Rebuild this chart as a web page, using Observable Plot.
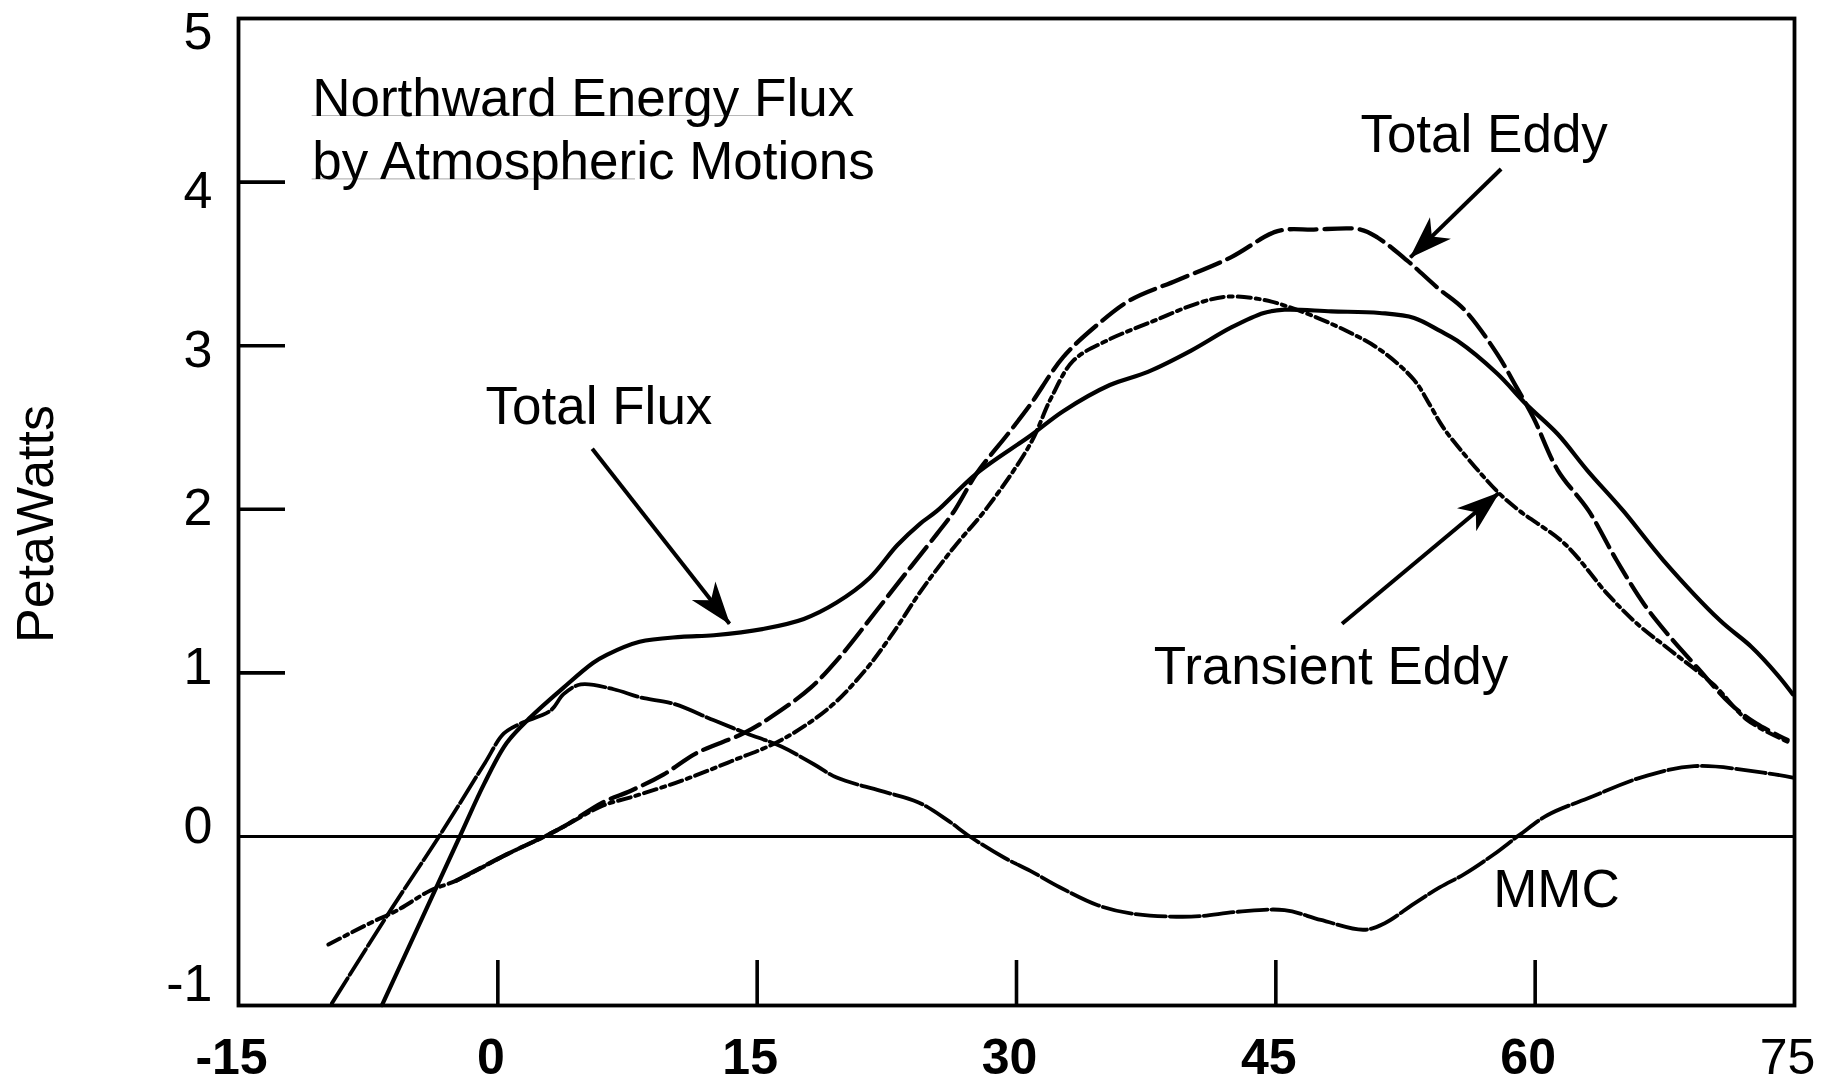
<!DOCTYPE html>
<html>
<head>
<meta charset="utf-8">
<script src="https://cdn.jsdelivr.net/npm/d3@7"></script>
<script src="https://cdn.jsdelivr.net/npm/@observablehq/plot@0.6"></script>
<style>
  html, body { margin: 0; padding: 0; background: #fff; }
  #chart svg { display: block; }
</style>
</head>
<body>
<div id="chart"></div>
<script>
// ---- Data: [latitude (deg), northward energy flux (PW)] ----
const totalFlux = [
  [-6.7,-1.03],[-2.2,0],[-0.8,0.32],[0.5,0.57],[1.9,0.73],[3.8,0.91],[5.5,1.06],[6.3,1.11],
  [8.2,1.19],[10.6,1.22],[12.5,1.23],[15.4,1.27],[17.7,1.33],[19.6,1.43],[21.5,1.58],[23.1,1.78],
  [24.4,1.91],[25.4,1.99],[27.7,2.22],[30.8,2.45],[32.7,2.60],[35.4,2.76],[37.6,2.84],[40.1,2.97],
  [42.4,3.11],[44.3,3.20],[45.5,3.22],[48.2,3.21],[51.0,3.20],[53.0,3.17],[54.5,3.09],[55.5,3.03],
  [57.8,2.83],[59.5,2.64],[61.3,2.46],[63.0,2.24],[65.1,1.99],[67.4,1.69],[70.7,1.32],[72.5,1.16],
  [74.0,0.99],[74.9,0.87]
];
const totalEddy = [
  [-2.4,-0.27],[0.5,-0.11],[2.7,0],[3.8,0.06],[6.1,0.21],[7.7,0.28],[9.6,0.38],[11.5,0.51],
  [14.2,0.63],[15.8,0.73],[18.1,0.91],[19.8,1.10],[21.9,1.38],[23.9,1.65],[25.4,1.85],[26.4,1.99],
  [27.7,2.22],[29.5,2.46],[30.8,2.64],[32.7,2.93],[34.7,3.13],[36.6,3.28],[39.3,3.40],[42.4,3.54],
  [45.1,3.70],[47.2,3.71],[49.9,3.71],[50.9,3.66],[52.6,3.52],[54.4,3.35],[55.9,3.22],[57.8,2.95],
  [58.9,2.75],[59.9,2.56],[61.3,2.24],[63.1,1.99],[64.7,1.69],[66.3,1.42],[67.8,1.22],[69.4,1.03],
  [71.3,0.81],[72.8,0.69],[74.6,0.59]
];
const transientEddy = [
  [-9.8,-0.66],[-7.4,-0.53],[-5.8,-0.45],[-3.9,-0.33],[-2.4,-0.27],[0.5,-0.11],[2.7,0],[3.8,0.06],
  [6.1,0.19],[7.7,0.24],[10.6,0.34],[13.5,0.46],[16.4,0.59],[19.2,0.79],[21.2,1.01],[22.7,1.22],
  [24.6,1.52],[26.4,1.77],[28.3,2.01],[30.8,2.40],[32.0,2.68],[33.3,2.91],[35.2,3.03],[37.9,3.15],
  [40.5,3.26],[42.2,3.30],[44.3,3.28],[46.2,3.22],[49.1,3.09],[51.1,2.97],[53.0,2.79],[53.9,2.64],
  [54.5,2.53],[55.1,2.44],[57.8,2.11],[59.1,1.99],[61.7,1.79],[64.2,1.48],[65.9,1.30],[67.8,1.14],
  [70.3,0.93],[72.3,0.71],[74.6,0.58]
];
const meanMeridional = [
  [-9.6,-1.02],[-6.2,-0.45],[-3.4,0],[-0.8,0.44],[0.35,0.63],[1.3,0.69],[3.05,0.77],[3.8,0.87],
  [4.8,0.93],[6.7,0.90],[8.25,0.85],[10.2,0.81],[12.5,0.71],[14.4,0.63],[16.4,0.55],[18.3,0.44],
  [19.6,0.36],[22.1,0.28],[24.3,0.21],[26.0,0.10],[27.3,0],[29.3,-0.13],[30.8,-0.21],[32.5,-0.31],
  [34.7,-0.42],[36.6,-0.47],[40.1,-0.49],[42.8,-0.46],[45.5,-0.45],[47.6,-0.51],[50.1,-0.57],
  [51.3,-0.53],[53.0,-0.41],[54.5,-0.31],[55.9,-0.23],[57.6,-0.11],[59.1,0.01],[60.7,0.13],
  [63.2,0.24],[66.1,0.36],[69.2,0.43],[73.2,0.39],[74.9,0.36]
];

// ---- Axes / tick labels ----
const xDomain = [-15, 75];
const yDomain = [-1.033, 5];
const xTickMarks = [0, 15, 30, 45, 60];
const xTickLabels = [-15, 0, 15, 30, 45, 60, 75];
const yTickMarks = [1, 2, 3, 4];
const yTickLabels = [5, 4, 3, 2, 1, 0, -1];
const yAxisTitle = "PetaWatts";

// ---- Annotations (text anchored at left baseline, in data units) ----
const labels = [
  {text: "Northward Energy Flux", lat: -10.74, pw: 4.407},
  {text: "by Atmospheric Motions", lat: -10.74, pw: 4.02},
  {text: "Total Flux", lat: -0.71, pw: 2.52},
  {text: "Total Eddy", lat: 49.89, pw: 4.183},
  {text: "Transient Eddy", lat: 37.94, pw: 0.933},
  {text: "MMC", lat: 57.57, pw: -0.432}
];
const titleUnderlines = [
  {pw: 4.407, lat1: -10.74, lat2: 15.07},
  {pw: 4.02, lat1: -10.74, lat2: 7.96}
];
const arrows = [
  {lat1: 5.46, pw1: 2.37, lat2: 13.4, pw2: 1.30},
  {lat1: 58.03, pw1: 4.08, lat2: 52.78, pw2: 3.54},
  {lat1: 48.83, pw1: 1.30, lat2: 57.9, pw2: 2.10}
];

const FONT = "'Liberation Sans', Arial, Helvetica, sans-serif";
const xTickLen = 45 / 163.6;   // tick length expressed in data units
const yTickLen = 47 / 17.29;

const X = d => d[0], Y = d => d[1];

const chart = Plot.plot({
  width: 1839,
  height: 1085,
  marginLeft: 238,
  marginRight: 45,
  marginTop: 18,
  marginBottom: 80,
  style: {fontFamily: FONT, fontSize: "52px", background: "#fff", color: "#000"},
  x: {domain: xDomain, axis: null},
  y: {domain: yDomain, axis: null},
  marks: [
    Plot.ruleY([0], {stroke: "#000", strokeWidth: 3}),
    Plot.ruleX(xTickMarks, {x: d => d, y1: yDomain[0], y2: yDomain[0] + xTickLen, stroke: "#000", strokeWidth: 3.6}),
    Plot.ruleY(yTickMarks, {y: d => d, x1: xDomain[0], x2: xDomain[0] + yTickLen, stroke: "#000", strokeWidth: 3.6}),
    Plot.line(meanMeridional, {x: X, y: Y, stroke: "#000", strokeWidth: 3.8, strokeDasharray: "30,4", curve: "catmull-rom"}),
    Plot.line(transientEddy, {x: X, y: Y, stroke: "#000", strokeWidth: 4, strokeDasharray: "13,5,4,5", curve: "catmull-rom"}),
    Plot.line(totalEddy, {x: X, y: Y, stroke: "#000", strokeWidth: 4.3, strokeDasharray: "27,8", curve: "catmull-rom"}),
    Plot.line(totalFlux, {x: X, y: Y, stroke: "#000", strokeWidth: 4.2, curve: "catmull-rom"}),
    Plot.frame({stroke: "#000", strokeWidth: 3.8}),
    Plot.ruleY(titleUnderlines, {y: "pw", x1: "lat1", x2: "lat2", stroke: "#b8b8b8", strokeWidth: 1.2}),
    Plot.text(labels, {x: "lat", y: "pw", text: "text", textAnchor: "start", lineAnchor: "bottom", fontSize: 53, fill: "#000"}),
    Plot.link(arrows, {x1: "lat1", y1: "pw1", x2: "lat2", y2: "pw2", stroke: "#000", strokeWidth: 4}),
    // y tick labels (slightly compressed placement as in the original)
    Plot.text(yTickLabels, {frameAnchor: "left", y: d => d * 0.97 + 0.064, text: d => String(d), textAnchor: "end", lineAnchor: "middle", dx: -26, fontSize: 52, fill: "#000"}),
    // x tick labels
    Plot.text(xTickLabels.slice(0, -1), {x: d => d, frameAnchor: "bottom", text: d => String(d), textAnchor: "middle", lineAnchor: "bottom", dy: 68, dx: -7, fontSize: 50, fontWeight: "bold", fill: "#000"}),
    Plot.text(xTickLabels.slice(-1), {x: d => d, frameAnchor: "bottom", text: d => String(d), textAnchor: "middle", lineAnchor: "bottom", dy: 68, dx: -7, fontSize: 50, fill: "#000"}),
    // y axis title
    Plot.text([yAxisTitle], {frameAnchor: "left", text: d => d, rotate: -90, textAnchor: "middle", lineAnchor: "middle", dx: -202, dy: 12, fontSize: 52, fill: "#000"})
  ]
});

// filled barbed arrowheads on the link marks
(function addArrowheads(svg) {
  const ns = "http://www.w3.org/2000/svg";
  const defs = document.createElementNS(ns, "defs");
  const marker = document.createElementNS(ns, "marker");
  marker.setAttribute("id", "stealth-head");
  marker.setAttribute("markerUnits", "userSpaceOnUse");
  marker.setAttribute("viewBox", "-46 -18 48 36");
  marker.setAttribute("markerWidth", "48");
  marker.setAttribute("markerHeight", "36");
  marker.setAttribute("refX", "0");
  marker.setAttribute("refY", "0");
  marker.setAttribute("orient", "auto");
  const p = document.createElementNS(ns, "path");
  p.setAttribute("d", "M1,0L-42,-15L-30,0L-42,15Z");
  p.setAttribute("fill", "#000");
  marker.appendChild(p);
  defs.appendChild(marker);
  svg.insertBefore(defs, svg.firstChild);
  svg.querySelectorAll('g[aria-label="link"] path').forEach(path => {
    path.setAttribute("marker-end", "url(#stealth-head)");
  });
})(chart);

document.getElementById("chart").appendChild(chart);
</script>
</body>
</html>
